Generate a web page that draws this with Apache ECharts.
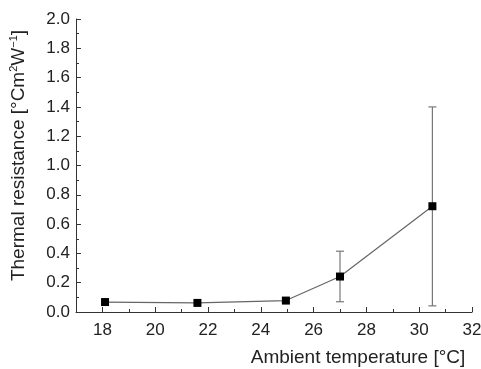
<!DOCTYPE html>
<html>
<head>
<meta charset="utf-8">
<script src="https://cdn.jsdelivr.net/npm/echarts@6/dist/echarts.min.js"></script>
<style>
  html, body { margin: 0; padding: 0; background: #fff; }
  #chart { width: 481px; height: 369px; }
</style>
</head>
<body>
<div id="chart"></div>
<script>
// ambient temperature (x), thermal resistance (y) and error bar ends
const temps = [18.1, 21.6, 24.95, 27.0, 30.5]
const resist = [0.068, 0.062, 0.078, 0.242, 0.722]
const errLow = [0.068, 0.062, 0.064, 0.07, 0.042]
const errHigh = [0.068, 0.062, 0.092, 0.415, 1.40]
const xTicks = [18, 20, 22, 24, 26, 28, 30, 32]

const font = 'Liberation Sans, Arial, sans-serif'
const chart = echarts.init(document.getElementById('chart'))

const points = temps.map((t, i) => [t, resist[i]])
const bars = temps.map((t, i) => [t, errLow[i], errHigh[i]])

const option = {
  animation: false,
  grid: { left: 76, right: 9, top: 19, bottom: 57, containLabel: false, outerBoundsMode: 'none' },
  xAxis: [
    {
      type: 'value',
      min: 17,
      max: 32,
      name: 'Ambient temperature [°C]',
      nameLocation: 'middle',
      nameGap: 36,
      nameTextStyle: { fontFamily: font, fontSize: 19, color: '#222', padding: [0, 0, 0, 168] },
      axisLine: { lineStyle: { color: '#333', width: 1 } },
      axisTick: { inside: true, length: 5, customValues: xTicks, lineStyle: { color: '#333' } },
      axisLabel: { customValues: xTicks, fontFamily: font, fontSize: 17, color: '#222', margin: 10 },
      splitLine: { show: false }
    },
    {
      // minor ticks every 1 degree
      type: 'value',
      min: 17,
      max: 32,
      interval: 1,
      position: 'bottom',
      axisLine: { show: false },
      axisTick: { inside: true, length: 3, lineStyle: { color: '#333' } },
      axisLabel: { show: false },
      splitLine: { show: false }
    }
  ],
  yAxis: {
    type: 'value',
    min: 0,
    max: 2,
    interval: 0.2,
    name: '{a|Thermal resistance [°Cm}{s|2}{a|W}{s|−1}{a|]}',
    nameLocation: 'middle',
    nameRotate: 90,
    nameGap: 46,
    nameTextStyle: {
      padding: [0, 0, 0, 20],
      rich: {
        a: { fontFamily: font, fontSize: 19, color: '#222', lineHeight: 22 },
        s: { fontFamily: font, fontSize: 11, color: '#222', lineHeight: 22, verticalAlign: 'top' }
      }
    },
    axisLine: { show: true, lineStyle: { color: '#333', width: 1 } },
    axisTick: { show: true, inside: true, length: 5, lineStyle: { color: '#333' } },
    minorTick: { show: true, splitNumber: 2, length: 3, lineStyle: { color: '#333' } },
    axisLabel: {
      fontFamily: font,
      fontSize: 17,
      color: '#222',
      margin: 6,
      formatter: v => v.toFixed(1)
    },
    splitLine: { show: false }
  },
  series: [
    {
      type: 'custom',
      xAxisIndex: 0,
      data: bars,
      z: 1,
      renderItem: (params, api) => {
        const top = api.coord([api.value(0), api.value(2)])
        const bot = api.coord([api.value(0), api.value(1)])
        if (bot[1] - top[1] < 1) return null
        const w = 4
        const style = { stroke: '#777', lineWidth: 1.2 }
        return {
          type: 'group',
          children: [
            { type: 'line', shape: { x1: top[0], y1: top[1], x2: bot[0], y2: bot[1] }, style },
            { type: 'line', shape: { x1: top[0] - w, y1: top[1], x2: top[0] + w, y2: top[1] }, style },
            { type: 'line', shape: { x1: bot[0] - w, y1: bot[1], x2: bot[0] + w, y2: bot[1] }, style }
          ]
        }
      }
    },
    {
      type: 'line',
      xAxisIndex: 0,
      data: points,
      z: 2,
      symbol: 'rect',
      symbolSize: 8,
      lineStyle: { color: '#666', width: 1.2 },
      itemStyle: { color: '#000' }
    }
  ]
}
chart.setOption(option)
</script>
</body>
</html>
